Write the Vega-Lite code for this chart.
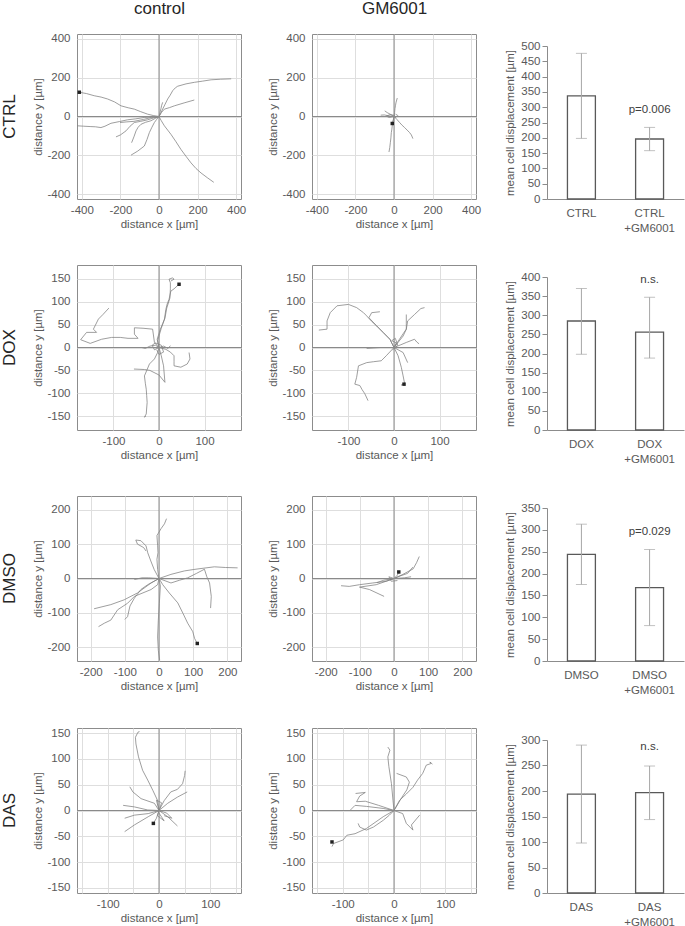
{
"$schema": "https://vega.github.io/schema/vega-lite/v6.json",
"padding": {"left": 0, "top": -2, "right": 2, "bottom": 0},
"autosize": {"type": "pad"},
"background": "white",
"config": {
  "font": "Liberation Sans",
  "view": {"stroke": null},
  "axis": {"labelFontSize": 11.5, "titleFontSize": 11.5, "labelColor": "#595959", "titleColor": "#595959", "titleFontWeight": "normal", "domain": false, "ticks": false, "gridColor": "#dedede", "gridWidth": 1, "labelFont": "Liberation Sans", "titleFont": "Liberation Sans", "labelOverlap": false, "labelFlush": false},
  "title": {"font": "Liberation Sans", "fontWeight": "normal", "fontSize": 17, "color": "#262626"}
},
"datasets": {
"tracks": [
{"p":1,"t":1,"i":0,"x":0,"y":0},{"p":1,"t":1,"i":1,"x":8,"y":15},{"p":1,"t":1,"i":2,"x":19,"y":38},{"p":1,"t":1,"i":3,"x":30,"y":60},{"p":1,"t":1,"i":4,"x":45,"y":90},{"p":1,"t":1,"i":5,"x":58,"y":110},{"p":1,"t":1,"i":6,"x":71,"y":133},{"p":1,"t":1,"i":7,"x":85,"y":148},{"p":1,"t":1,"i":8,"x":97,"y":156},{"p":1,"t":1,"i":9,"x":140,"y":168},{"p":1,"t":1,"i":10,"x":183,"y":176},{"p":1,"t":1,"i":11,"x":225,"y":182},{"p":1,"t":1,"i":12,"x":270,"y":189},{"p":1,"t":1,"i":13,"x":320,"y":192},{"p":1,"t":1,"i":14,"x":374,"y":194},
{"p":1,"t":2,"i":0,"x":0,"y":0},{"p":1,"t":2,"i":1,"x":12,"y":20},{"p":1,"t":2,"i":2,"x":28,"y":38},{"p":1,"t":2,"i":3,"x":55,"y":46},{"p":1,"t":2,"i":4,"x":80,"y":55},{"p":1,"t":2,"i":5,"x":130,"y":70},{"p":1,"t":2,"i":6,"x":183,"y":85},
{"p":1,"t":3,"i":0,"x":0,"y":0},{"p":1,"t":3,"i":1,"x":-30,"y":5},{"p":1,"t":3,"i":2,"x":-59,"y":12},{"p":1,"t":3,"i":3,"x":-95,"y":25},{"p":1,"t":3,"i":4,"x":-128,"y":38},{"p":1,"t":3,"i":5,"x":-160,"y":45},{"p":1,"t":3,"i":6,"x":-197,"y":55},{"p":1,"t":3,"i":7,"x":-230,"y":75},{"p":1,"t":3,"i":8,"x":-266,"y":90},{"p":1,"t":3,"i":9,"x":-300,"y":100},{"p":1,"t":3,"i":10,"x":-336,"y":107},{"p":1,"t":3,"i":11,"x":-375,"y":118},{"p":1,"t":3,"i":12,"x":-413,"y":125},
{"p":1,"t":4,"i":0,"x":0,"y":0},{"p":1,"t":4,"i":1,"x":-40,"y":-2},{"p":1,"t":4,"i":2,"x":-76,"y":-5},{"p":1,"t":4,"i":3,"x":-120,"y":-12},{"p":1,"t":4,"i":4,"x":-163,"y":-17},{"p":1,"t":4,"i":5,"x":-205,"y":-26},{"p":1,"t":4,"i":6,"x":-249,"y":-35},{"p":1,"t":4,"i":7,"x":-280,"y":-50},{"p":1,"t":4,"i":8,"x":-301,"y":-57},{"p":1,"t":4,"i":9,"x":-330,"y":-53},{"p":1,"t":4,"i":10,"x":-353,"y":-52},{"p":1,"t":4,"i":11,"x":-390,"y":-50},{"p":1,"t":4,"i":12,"x":-422,"y":-48},
{"p":1,"t":5,"i":0,"x":0,"y":0},{"p":1,"t":5,"i":1,"x":-30,"y":-8},{"p":1,"t":5,"i":2,"x":-59,"y":-17},{"p":1,"t":5,"i":3,"x":-95,"y":-25},{"p":1,"t":5,"i":4,"x":-128,"y":-31},{"p":1,"t":5,"i":5,"x":-150,"y":-50},{"p":1,"t":5,"i":6,"x":-171,"y":-74},{"p":1,"t":5,"i":7,"x":-200,"y":-95},{"p":1,"t":5,"i":8,"x":-223,"y":-105},
{"p":1,"t":6,"i":0,"x":0,"y":0},{"p":1,"t":6,"i":1,"x":-20,"y":-10},{"p":1,"t":6,"i":2,"x":-42,"y":-22},{"p":1,"t":6,"i":3,"x":-70,"y":-30},{"p":1,"t":6,"i":4,"x":-93,"y":-40},{"p":1,"t":6,"i":5,"x":-108,"y":-55},{"p":1,"t":6,"i":6,"x":-119,"y":-74},{"p":1,"t":6,"i":7,"x":-130,"y":-105},{"p":1,"t":6,"i":8,"x":-142,"y":-135},
{"p":1,"t":7,"i":0,"x":0,"y":0},{"p":1,"t":7,"i":1,"x":-12,"y":-15},{"p":1,"t":7,"i":2,"x":-24,"y":-31},{"p":1,"t":7,"i":3,"x":-38,"y":-58},{"p":1,"t":7,"i":4,"x":-50,"y":-83},{"p":1,"t":7,"i":5,"x":-62,"y":-118},{"p":1,"t":7,"i":6,"x":-76,"y":-152},{"p":1,"t":7,"i":7,"x":-110,"y":-178},{"p":1,"t":7,"i":8,"x":-145,"y":-199},
{"p":1,"t":8,"i":0,"x":0,"y":0},{"p":1,"t":8,"i":1,"x":12,"y":-22},{"p":1,"t":8,"i":2,"x":28,"y":-48},{"p":1,"t":8,"i":3,"x":45,"y":-70},{"p":1,"t":8,"i":4,"x":62,"y":-92},{"p":1,"t":8,"i":5,"x":88,"y":-130},{"p":1,"t":8,"i":6,"x":114,"y":-170},{"p":1,"t":8,"i":7,"x":140,"y":-205},{"p":1,"t":8,"i":8,"x":166,"y":-239},{"p":1,"t":8,"i":9,"x":192,"y":-268},{"p":1,"t":8,"i":10,"x":218,"y":-291},{"p":1,"t":8,"i":11,"x":250,"y":-315},{"p":1,"t":8,"i":12,"x":284,"y":-339},
{"p":1,"t":9,"i":0,"x":0,"y":0},{"p":1,"t":9,"i":1,"x":5,"y":20},{"p":1,"t":9,"i":2,"x":10,"y":40},{"p":1,"t":9,"i":3,"x":14,"y":58},{"p":1,"t":9,"i":4,"x":19,"y":73},
{"p":1,"t":10,"i":0,"x":0,"y":0},{"p":1,"t":10,"i":1,"x":-40,"y":-5},{"p":1,"t":10,"i":2,"x":-80,"y":-15},{"p":1,"t":10,"i":3,"x":-130,"y":-25},{"p":1,"t":10,"i":4,"x":-170,"y":-28},{"p":1,"t":10,"i":5,"x":-202,"y":-31},

{"p":2,"t":1,"i":0,"x":0,"y":0},{"p":2,"t":1,"i":1,"x":3,"y":20},{"p":2,"t":1,"i":2,"x":5,"y":40},{"p":2,"t":1,"i":3,"x":8,"y":58},{"p":2,"t":1,"i":4,"x":10,"y":70},{"p":2,"t":1,"i":5,"x":14,"y":85},{"p":2,"t":1,"i":6,"x":17,"y":95},
{"p":2,"t":2,"i":0,"x":0,"y":0},{"p":2,"t":2,"i":1,"x":-4,"y":-25},{"p":2,"t":2,"i":2,"x":-9,"y":-48},{"p":2,"t":2,"i":3,"x":-11,"y":-65},{"p":2,"t":2,"i":4,"x":-14,"y":-83},{"p":2,"t":2,"i":5,"x":-16,"y":-110},{"p":2,"t":2,"i":6,"x":-19,"y":-135},{"p":2,"t":2,"i":7,"x":-22,"y":-160},{"p":2,"t":2,"i":8,"x":-26,"y":-183},
{"p":2,"t":3,"i":0,"x":0,"y":0},{"p":2,"t":3,"i":1,"x":15,"y":-15},{"p":2,"t":3,"i":2,"x":29,"y":-31},{"p":2,"t":3,"i":3,"x":42,"y":-45},{"p":2,"t":3,"i":4,"x":55,"y":-57},{"p":2,"t":3,"i":5,"x":68,"y":-70},{"p":2,"t":3,"i":6,"x":81,"y":-83},{"p":2,"t":3,"i":7,"x":90,"y":-95},{"p":2,"t":3,"i":8,"x":98,"y":-114},
{"p":2,"t":4,"i":0,"x":0,"y":0},{"p":2,"t":4,"i":1,"x":-25,"y":3},{"p":2,"t":4,"i":2,"x":-50,"y":8},{"p":2,"t":4,"i":3,"x":-69,"y":7},
{"p":2,"t":5,"i":0,"x":0,"y":0},{"p":2,"t":5,"i":1,"x":-20,"y":12},{"p":2,"t":5,"i":2,"x":-35,"y":20},{"p":2,"t":5,"i":3,"x":-48,"y":29},
{"p":2,"t":6,"i":0,"x":0,"y":0},{"p":2,"t":6,"i":1,"x":-4,"y":-18},{"p":2,"t":6,"i":2,"x":-9,"y":-36},
{"p":2,"t":7,"i":0,"x":0,"y":0},{"p":2,"t":7,"i":1,"x":-25,"y":-5},{"p":2,"t":7,"i":2,"x":-40,"y":2},{"p":2,"t":7,"i":3,"x":-20,"y":10},{"p":2,"t":7,"i":4,"x":5,"y":5},
{"p":2,"t":8,"i":0,"x":0,"y":0},{"p":2,"t":8,"i":1,"x":10,"y":-5},{"p":2,"t":8,"i":2,"x":20,"y":5},{"p":2,"t":8,"i":3,"x":8,"y":12},

{"p":3,"t":1,"i":0,"x":0,"y":0},{"p":3,"t":1,"i":1,"x":-4,"y":18},{"p":3,"t":1,"i":2,"x":3,"y":40},{"p":3,"t":1,"i":3,"x":8,"y":52},{"p":3,"t":1,"i":4,"x":12,"y":62},{"p":3,"t":1,"i":5,"x":15,"y":83},{"p":3,"t":1,"i":6,"x":18,"y":95},{"p":3,"t":1,"i":7,"x":22,"y":105},{"p":3,"t":1,"i":8,"x":26,"y":123},{"p":3,"t":1,"i":9,"x":33,"y":128},{"p":3,"t":1,"i":10,"x":44,"y":138},
{"p":3,"t":2,"i":0,"x":0,"y":0},{"p":3,"t":2,"i":1,"x":-3,"y":15},{"p":3,"t":2,"i":2,"x":5,"y":42},{"p":3,"t":2,"i":3,"x":13,"y":64},{"p":3,"t":2,"i":4,"x":17,"y":86},{"p":3,"t":2,"i":5,"x":24,"y":108},{"p":3,"t":2,"i":6,"x":25,"y":128},{"p":3,"t":2,"i":7,"x":25,"y":141},{"p":3,"t":2,"i":8,"x":22,"y":149},{"p":3,"t":2,"i":9,"x":30,"y":152},{"p":3,"t":2,"i":10,"x":33,"y":149},{"p":3,"t":2,"i":11,"x":26,"y":145},
{"p":3,"t":3,"i":0,"x":0,"y":0},{"p":3,"t":3,"i":1,"x":-10,"y":11},{"p":3,"t":3,"i":2,"x":-14,"y":40},{"p":3,"t":3,"i":3,"x":-35,"y":42},{"p":3,"t":3,"i":4,"x":-54,"y":43},{"p":3,"t":3,"i":5,"x":-54,"y":29},{"p":3,"t":3,"i":6,"x":-46,"y":20},{"p":3,"t":3,"i":7,"x":-68,"y":20},{"p":3,"t":3,"i":8,"x":-85,"y":22},{"p":3,"t":3,"i":9,"x":-104,"y":22},{"p":3,"t":3,"i":10,"x":-126,"y":18},{"p":3,"t":3,"i":11,"x":-151,"y":9},{"p":3,"t":3,"i":12,"x":-172,"y":17},{"p":3,"t":3,"i":13,"x":-159,"y":33},{"p":3,"t":3,"i":14,"x":-137,"y":33},{"p":3,"t":3,"i":15,"x":-144,"y":40},{"p":3,"t":3,"i":16,"x":-133,"y":62},{"p":3,"t":3,"i":17,"x":-123,"y":72},{"p":3,"t":3,"i":18,"x":-110,"y":86},
{"p":3,"t":4,"i":0,"x":0,"y":0},{"p":3,"t":4,"i":1,"x":-3,"y":-11},{"p":3,"t":4,"i":2,"x":-10,"y":-25},{"p":3,"t":4,"i":3,"x":-21,"y":-36},{"p":3,"t":4,"i":4,"x":-26,"y":-48},{"p":3,"t":4,"i":5,"x":-32,"y":-62},{"p":3,"t":4,"i":6,"x":-30,"y":-78},{"p":3,"t":4,"i":7,"x":-28,"y":-91},{"p":3,"t":4,"i":8,"x":-27,"y":-105},{"p":3,"t":4,"i":9,"x":-26,"y":-120},{"p":3,"t":4,"i":10,"x":-27,"y":-132},{"p":3,"t":4,"i":11,"x":-28,"y":-145},{"p":3,"t":4,"i":12,"x":-32,"y":-152},{"p":3,"t":4,"i":13,"x":-29,"y":-150},
{"p":3,"t":5,"i":0,"x":0,"y":0},{"p":3,"t":5,"i":1,"x":15,"y":-4},{"p":3,"t":5,"i":2,"x":25,"y":-10},{"p":3,"t":5,"i":3,"x":33,"y":-18},{"p":3,"t":5,"i":4,"x":33,"y":-30},{"p":3,"t":5,"i":5,"x":33,"y":-40},{"p":3,"t":5,"i":6,"x":48,"y":-43},{"p":3,"t":5,"i":7,"x":62,"y":-36},{"p":3,"t":5,"i":8,"x":68,"y":-25},{"p":3,"t":5,"i":9,"x":66,"y":-11},
{"p":3,"t":6,"i":0,"x":0,"y":0},{"p":3,"t":6,"i":1,"x":5,"y":-18},{"p":3,"t":6,"i":2,"x":10,"y":-40},{"p":3,"t":6,"i":3,"x":13,"y":-76},{"p":3,"t":6,"i":4,"x":0,"y":-60},{"p":3,"t":6,"i":5,"x":-20,"y":-50},{"p":3,"t":6,"i":6,"x":-32,"y":-48},{"p":3,"t":6,"i":7,"x":-55,"y":-47},
{"p":3,"t":7,"i":0,"x":0,"y":0},{"p":3,"t":7,"i":1,"x":-10,"y":-5},{"p":3,"t":7,"i":2,"x":-15,"y":5},{"p":3,"t":7,"i":3,"x":-8,"y":10},{"p":3,"t":7,"i":4,"x":5,"y":5},{"p":3,"t":7,"i":5,"x":10,"y":-10},{"p":3,"t":7,"i":6,"x":0,"y":-15},{"p":3,"t":7,"i":7,"x":-5,"y":-5},
{"p":3,"t":8,"i":0,"x":0,"y":0},{"p":3,"t":8,"i":1,"x":10,"y":3},{"p":3,"t":8,"i":2,"x":20,"y":-2},{"p":3,"t":8,"i":3,"x":25,"y":4},
{"p":3,"t":9,"i":0,"x":0,"y":0},{"p":3,"t":9,"i":1,"x":-8,"y":5},{"p":3,"t":9,"i":2,"x":-20,"y":3},{"p":3,"t":9,"i":3,"x":-30,"y":-2},{"p":3,"t":9,"i":4,"x":-38,"y":0},

{"p":4,"t":1,"i":0,"x":0,"y":0},{"p":4,"t":1,"i":1,"x":-9,"y":18},{"p":4,"t":1,"i":2,"x":-24,"y":33},{"p":4,"t":1,"i":3,"x":-38,"y":47},{"p":4,"t":1,"i":4,"x":-50,"y":58},{"p":4,"t":1,"i":5,"x":-60,"y":69},{"p":4,"t":1,"i":6,"x":-67,"y":76},{"p":4,"t":1,"i":7,"x":-82,"y":87},{"p":4,"t":1,"i":8,"x":-100,"y":94},{"p":4,"t":1,"i":9,"x":-125,"y":91},{"p":4,"t":1,"i":10,"x":-140,"y":76},{"p":4,"t":1,"i":11,"x":-147,"y":58},{"p":4,"t":1,"i":12,"x":-147,"y":40},{"p":4,"t":1,"i":13,"x":-165,"y":38},
{"p":4,"t":2,"i":0,"x":0,"y":0},{"p":4,"t":2,"i":1,"x":-9,"y":18},{"p":4,"t":2,"i":2,"x":-24,"y":33},{"p":4,"t":2,"i":3,"x":-38,"y":47},{"p":4,"t":2,"i":4,"x":-55,"y":65},{"p":4,"t":2,"i":5,"x":-49,"y":76},{"p":4,"t":2,"i":6,"x":-31,"y":78},
{"p":4,"t":3,"i":0,"x":0,"y":0},{"p":4,"t":3,"i":1,"x":12,"y":18},{"p":4,"t":3,"i":2,"x":20,"y":30},{"p":4,"t":3,"i":3,"x":27,"y":40},{"p":4,"t":3,"i":4,"x":30,"y":58},{"p":4,"t":3,"i":5,"x":45,"y":72},{"p":4,"t":3,"i":6,"x":59,"y":85},{"p":4,"t":3,"i":7,"x":67,"y":87},
{"p":4,"t":4,"i":0,"x":0,"y":0},{"p":4,"t":4,"i":1,"x":20,"y":25},{"p":4,"t":4,"i":2,"x":27,"y":40},{"p":4,"t":4,"i":3,"x":27,"y":52},{"p":4,"t":4,"i":4,"x":27,"y":72},
{"p":4,"t":5,"i":0,"x":0,"y":0},{"p":4,"t":5,"i":1,"x":15,"y":6},{"p":4,"t":5,"i":2,"x":27,"y":11},{"p":4,"t":5,"i":3,"x":45,"y":18},{"p":4,"t":5,"i":4,"x":50,"y":12},{"p":4,"t":5,"i":5,"x":55,"y":8},
{"p":4,"t":6,"i":0,"x":0,"y":0},{"p":4,"t":6,"i":1,"x":-17,"y":-18},{"p":4,"t":6,"i":2,"x":-28,"y":-29},{"p":4,"t":6,"i":3,"x":-45,"y":-31},{"p":4,"t":6,"i":4,"x":-60,"y":-33},{"p":4,"t":6,"i":5,"x":-78,"y":-40},{"p":4,"t":6,"i":6,"x":-82,"y":-65},{"p":4,"t":6,"i":7,"x":-86,"y":-80},{"p":4,"t":6,"i":8,"x":-75,"y":-83},{"p":4,"t":6,"i":9,"x":-70,"y":-92},{"p":4,"t":6,"i":10,"x":-64,"y":-101},{"p":4,"t":6,"i":11,"x":-57,"y":-116},
{"p":4,"t":7,"i":0,"x":0,"y":0},{"p":4,"t":7,"i":1,"x":9,"y":-18},{"p":4,"t":7,"i":2,"x":16,"y":-43},{"p":4,"t":7,"i":3,"x":20,"y":-62},{"p":4,"t":7,"i":4,"x":23,"y":-77},{"p":4,"t":7,"i":5,"x":16,"y":-82},{"p":4,"t":7,"i":6,"x":22,"y":-80},
{"p":4,"t":8,"i":0,"x":0,"y":0},{"p":4,"t":8,"i":1,"x":-30,"y":0},{"p":4,"t":8,"i":2,"x":-60,"y":-2},
{"p":4,"t":9,"i":0,"x":0,"y":0},{"p":4,"t":9,"i":1,"x":20,"y":-11},{"p":4,"t":9,"i":2,"x":30,"y":-33},
{"p":4,"t":10,"i":0,"x":0,"y":0},{"p":4,"t":10,"i":1,"x":5,"y":10},{"p":4,"t":10,"i":2,"x":-5,"y":15},{"p":4,"t":10,"i":3,"x":3,"y":20},{"p":4,"t":10,"i":4,"x":8,"y":5},{"p":4,"t":10,"i":5,"x":-3,"y":-5},

{"p":5,"t":1,"i":0,"x":0,"y":0},{"p":5,"t":1,"i":1,"x":-4,"y":26},{"p":5,"t":1,"i":2,"x":-6,"y":56},{"p":5,"t":1,"i":3,"x":-3,"y":75},{"p":5,"t":1,"i":4,"x":-4,"y":95},{"p":5,"t":1,"i":5,"x":-6,"y":125},{"p":5,"t":1,"i":6,"x":6,"y":145},{"p":5,"t":1,"i":7,"x":16,"y":159},{"p":5,"t":1,"i":8,"x":22,"y":174},
{"p":5,"t":2,"i":0,"x":0,"y":0},{"p":5,"t":2,"i":1,"x":-14,"y":26},{"p":5,"t":2,"i":2,"x":-24,"y":51},{"p":5,"t":2,"i":3,"x":-33,"y":75},{"p":5,"t":2,"i":4,"x":-38,"y":95},{"p":5,"t":2,"i":5,"x":-53,"y":110},{"p":5,"t":2,"i":6,"x":-68,"y":112},{"p":5,"t":2,"i":7,"x":-63,"y":100},{"p":5,"t":2,"i":8,"x":-45,"y":90},{"p":5,"t":2,"i":9,"x":-38,"y":80},
{"p":5,"t":3,"i":0,"x":0,"y":0},{"p":5,"t":3,"i":1,"x":35,"y":12},{"p":5,"t":3,"i":2,"x":74,"y":22},{"p":5,"t":3,"i":3,"x":100,"y":26},{"p":5,"t":3,"i":4,"x":123,"y":29},{"p":5,"t":3,"i":5,"x":162,"y":34},{"p":5,"t":3,"i":6,"x":195,"y":32},{"p":5,"t":3,"i":7,"x":230,"y":31},
{"p":5,"t":4,"i":0,"x":0,"y":0},{"p":5,"t":4,"i":1,"x":35,"y":-13},{"p":5,"t":4,"i":2,"x":60,"y":-5},{"p":5,"t":4,"i":3,"x":84,"y":2},{"p":5,"t":4,"i":4,"x":110,"y":15},{"p":5,"t":4,"i":5,"x":133,"y":27},{"p":5,"t":4,"i":6,"x":140,"y":5},{"p":5,"t":4,"i":7,"x":148,"y":-13},{"p":5,"t":4,"i":8,"x":153,"y":-52},{"p":5,"t":4,"i":9,"x":151,"y":-86},
{"p":5,"t":5,"i":0,"x":0,"y":0},{"p":5,"t":5,"i":1,"x":11,"y":-18},{"p":5,"t":5,"i":2,"x":30,"y":-42},{"p":5,"t":5,"i":3,"x":55,"y":-71},{"p":5,"t":5,"i":4,"x":70,"y":-101},{"p":5,"t":5,"i":5,"x":84,"y":-130},{"p":5,"t":5,"i":6,"x":99,"y":-155},{"p":5,"t":5,"i":7,"x":104,"y":-174},{"p":5,"t":5,"i":8,"x":112,"y":-189},
{"p":5,"t":6,"i":0,"x":0,"y":0},{"p":5,"t":6,"i":1,"x":4,"y":-22},{"p":5,"t":6,"i":2,"x":1,"y":-72},{"p":5,"t":6,"i":3,"x":-2,"y":-121},{"p":5,"t":6,"i":4,"x":-4,"y":-170},{"p":5,"t":6,"i":5,"x":-2,"y":-209},{"p":5,"t":6,"i":6,"x":2,"y":-238},
{"p":5,"t":7,"i":0,"x":0,"y":0},{"p":5,"t":7,"i":1,"x":-33,"y":-18},{"p":5,"t":7,"i":2,"x":-53,"y":-32},{"p":5,"t":7,"i":3,"x":-72,"y":-57},{"p":5,"t":7,"i":4,"x":-85,"y":-80},{"p":5,"t":7,"i":5,"x":-92,"y":-111},{"p":5,"t":7,"i":6,"x":-100,"y":-119},
{"p":5,"t":8,"i":0,"x":0,"y":0},{"p":5,"t":8,"i":1,"x":-23,"y":-13},{"p":5,"t":8,"i":2,"x":-63,"y":-42},{"p":5,"t":8,"i":3,"x":-102,"y":-62},{"p":5,"t":8,"i":4,"x":-141,"y":-76},{"p":5,"t":8,"i":5,"x":-190,"y":-88},
{"p":5,"t":9,"i":0,"x":0,"y":0},{"p":5,"t":9,"i":1,"x":-4,"y":-18},{"p":5,"t":9,"i":2,"x":-23,"y":-32},{"p":5,"t":9,"i":3,"x":-72,"y":-52},{"p":5,"t":9,"i":4,"x":-92,"y":-72},{"p":5,"t":9,"i":5,"x":-121,"y":-91},{"p":5,"t":9,"i":6,"x":-141,"y":-121},{"p":5,"t":9,"i":7,"x":-160,"y":-130},{"p":5,"t":9,"i":8,"x":-177,"y":-140},
{"p":5,"t":10,"i":0,"x":0,"y":0},{"p":5,"t":10,"i":1,"x":-30,"y":2},{"p":5,"t":10,"i":2,"x":-50,"y":2},{"p":5,"t":10,"i":3,"x":-72,"y":-3},

{"p":6,"t":1,"i":0,"x":0,"y":0},{"p":6,"t":1,"i":1,"x":-23,"y":-8},{"p":6,"t":1,"i":2,"x":-62,"y":-13},{"p":6,"t":1,"i":3,"x":-101,"y":-18},{"p":6,"t":1,"i":4,"x":-131,"y":-23},{"p":6,"t":1,"i":5,"x":-155,"y":-21},
{"p":6,"t":2,"i":0,"x":0,"y":0},{"p":6,"t":2,"i":1,"x":-52,"y":-18},{"p":6,"t":2,"i":2,"x":-101,"y":-25},{"p":6,"t":2,"i":3,"x":-72,"y":-32},{"p":6,"t":2,"i":4,"x":-29,"y":-52},
{"p":6,"t":3,"i":0,"x":0,"y":0},{"p":6,"t":3,"i":1,"x":26,"y":12},{"p":6,"t":3,"i":2,"x":56,"y":28},{"p":6,"t":3,"i":3,"x":66,"y":46},{"p":6,"t":3,"i":4,"x":74,"y":64},
{"p":6,"t":4,"i":0,"x":0,"y":0},{"p":6,"t":4,"i":1,"x":20,"y":8},{"p":6,"t":4,"i":2,"x":40,"y":15},{"p":6,"t":4,"i":3,"x":55,"y":33},
{"p":6,"t":5,"i":0,"x":0,"y":0},{"p":6,"t":5,"i":1,"x":10,"y":10},{"p":6,"t":5,"i":2,"x":14,"y":19},
{"p":6,"t":6,"i":0,"x":0,"y":0},{"p":6,"t":6,"i":1,"x":-30,"y":-5},{"p":6,"t":6,"i":2,"x":-50,"y":-12},
{"p":6,"t":7,"i":0,"x":0,"y":0},{"p":6,"t":7,"i":1,"x":30,"y":2},{"p":6,"t":7,"i":2,"x":50,"y":5},
{"p":6,"t":8,"i":0,"x":0,"y":0},{"p":6,"t":8,"i":1,"x":-15,"y":5},{"p":6,"t":8,"i":2,"x":-8,"y":-8},{"p":6,"t":8,"i":3,"x":10,"y":-6},

{"p":7,"t":1,"i":0,"x":0,"y":0},{"p":7,"t":1,"i":1,"x":-3,"y":20},{"p":7,"t":1,"i":2,"x":-12,"y":39},{"p":7,"t":1,"i":3,"x":-22,"y":59},{"p":7,"t":1,"i":4,"x":-32,"y":78},{"p":7,"t":1,"i":5,"x":-40,"y":104},{"p":7,"t":1,"i":6,"x":-45,"y":129},{"p":7,"t":1,"i":7,"x":-46,"y":142},{"p":7,"t":1,"i":8,"x":-41,"y":152},{"p":7,"t":1,"i":9,"x":-38,"y":153},
{"p":7,"t":2,"i":0,"x":0,"y":0},{"p":7,"t":2,"i":1,"x":10,"y":19},{"p":7,"t":2,"i":2,"x":23,"y":36},{"p":7,"t":2,"i":3,"x":36,"y":41},{"p":7,"t":2,"i":4,"x":46,"y":52},{"p":7,"t":2,"i":5,"x":50,"y":68},{"p":7,"t":2,"i":6,"x":51,"y":77},
{"p":7,"t":3,"i":0,"x":0,"y":0},{"p":7,"t":3,"i":1,"x":17,"y":14},{"p":7,"t":3,"i":2,"x":36,"y":26},{"p":7,"t":3,"i":3,"x":55,"y":36},
{"p":7,"t":4,"i":0,"x":0,"y":0},{"p":7,"t":4,"i":1,"x":-21,"y":-12},{"p":7,"t":4,"i":2,"x":-48,"y":-28},{"p":7,"t":4,"i":3,"x":-67,"y":-41},
{"p":7,"t":5,"i":0,"x":0,"y":0},{"p":7,"t":5,"i":1,"x":-21,"y":-6},{"p":7,"t":5,"i":2,"x":-48,"y":-9},{"p":7,"t":5,"i":3,"x":-67,"y":-15},
{"p":7,"t":6,"i":0,"x":0,"y":0},{"p":7,"t":6,"i":1,"x":-9,"y":14},{"p":7,"t":6,"i":2,"x":-35,"y":23},{"p":7,"t":6,"i":3,"x":-51,"y":36},{"p":7,"t":6,"i":4,"x":-57,"y":46},
{"p":7,"t":7,"i":0,"x":0,"y":0},{"p":7,"t":7,"i":1,"x":-22,"y":1},{"p":7,"t":7,"i":2,"x":-48,"y":7},{"p":7,"t":7,"i":3,"x":-70,"y":10},
{"p":7,"t":8,"i":0,"x":0,"y":0},{"p":7,"t":8,"i":1,"x":17,"y":-12},{"p":7,"t":8,"i":2,"x":36,"y":-30},
{"p":7,"t":9,"i":0,"x":0,"y":0},{"p":7,"t":9,"i":1,"x":-5,"y":-15},{"p":7,"t":9,"i":2,"x":-11,"y":-25},
{"p":7,"t":10,"i":0,"x":0,"y":0},{"p":7,"t":10,"i":1,"x":-5,"y":20},{"p":7,"t":10,"i":2,"x":5,"y":15},{"p":7,"t":10,"i":3,"x":-3,"y":-10},{"p":7,"t":10,"i":4,"x":10,"y":-20},{"p":7,"t":10,"i":5,"x":0,"y":-5},
{"p":7,"t":11,"i":0,"x":0,"y":0},{"p":7,"t":11,"i":1,"x":15,"y":-5},{"p":7,"t":11,"i":2,"x":25,"y":-15},{"p":7,"t":11,"i":3,"x":10,"y":-10},

{"p":8,"t":1,"i":0,"x":0,"y":0},{"p":8,"t":1,"i":1,"x":-2,"y":20},{"p":8,"t":1,"i":2,"x":-5,"y":52},{"p":8,"t":1,"i":3,"x":-10,"y":85},{"p":8,"t":1,"i":4,"x":-12,"y":104},{"p":8,"t":1,"i":5,"x":-8,"y":117},{"p":8,"t":1,"i":6,"x":-12,"y":123},
{"p":8,"t":2,"i":0,"x":0,"y":0},{"p":8,"t":2,"i":1,"x":11,"y":20},{"p":8,"t":2,"i":2,"x":24,"y":32},{"p":8,"t":2,"i":3,"x":37,"y":45},{"p":8,"t":2,"i":4,"x":46,"y":59},{"p":8,"t":2,"i":5,"x":56,"y":72},{"p":8,"t":2,"i":6,"x":63,"y":88},{"p":8,"t":2,"i":7,"x":72,"y":91},{"p":8,"t":2,"i":8,"x":70,"y":94},{"p":8,"t":2,"i":9,"x":75,"y":90},
{"p":8,"t":3,"i":0,"x":0,"y":0},{"p":8,"t":3,"i":1,"x":15,"y":25},{"p":8,"t":3,"i":2,"x":25,"y":40},{"p":8,"t":3,"i":3,"x":30,"y":55},{"p":8,"t":3,"i":4,"x":24,"y":65},{"p":8,"t":3,"i":5,"x":5,"y":72},
{"p":8,"t":4,"i":0,"x":0,"y":0},{"p":8,"t":4,"i":1,"x":-21,"y":4},{"p":8,"t":4,"i":2,"x":-54,"y":8},{"p":8,"t":4,"i":3,"x":-76,"y":10},{"p":8,"t":4,"i":4,"x":-86,"y":0},
{"p":8,"t":5,"i":0,"x":0,"y":0},{"p":8,"t":5,"i":1,"x":-30,"y":10},{"p":8,"t":5,"i":2,"x":-56,"y":18},{"p":8,"t":5,"i":3,"x":-73,"y":17},{"p":8,"t":5,"i":4,"x":-67,"y":28},{"p":8,"t":5,"i":5,"x":-56,"y":35},{"p":8,"t":5,"i":6,"x":-75,"y":33},
{"p":8,"t":6,"i":0,"x":0,"y":0},{"p":8,"t":6,"i":1,"x":-21,"y":-12},{"p":8,"t":6,"i":2,"x":-54,"y":-35},{"p":8,"t":6,"i":3,"x":-76,"y":-45},{"p":8,"t":6,"i":4,"x":-92,"y":-48},{"p":8,"t":6,"i":5,"x":-99,"y":-57},{"p":8,"t":6,"i":6,"x":-118,"y":-64},{"p":8,"t":6,"i":7,"x":-121,"y":-70},
{"p":8,"t":7,"i":0,"x":0,"y":0},{"p":8,"t":7,"i":1,"x":-9,"y":-9},{"p":8,"t":7,"i":2,"x":-21,"y":-19},{"p":8,"t":7,"i":3,"x":-40,"y":-32},{"p":8,"t":7,"i":4,"x":-54,"y":-38},{"p":8,"t":7,"i":5,"x":-67,"y":-32},{"p":8,"t":7,"i":6,"x":-70,"y":-25},
{"p":8,"t":8,"i":0,"x":0,"y":0},{"p":8,"t":8,"i":1,"x":17,"y":-6},{"p":8,"t":8,"i":2,"x":24,"y":-25},{"p":8,"t":8,"i":3,"x":37,"y":-38},{"p":8,"t":8,"i":4,"x":34,"y":-28},{"p":8,"t":8,"i":5,"x":50,"y":-9}
],
"marks": [
{"p":1,"x":-413,"y":125},{"p":2,"x":-9,"y":-36},{"p":3,"x":44,"y":138},{"p":4,"x":22,"y":-80},{"p":5,"x":112,"y":-189},{"p":6,"x":14,"y":19},{"p":7,"x":-11,"y":-25},{"p":8,"x":-121,"y":-61}
],
"bars": [
{"r":1,"c":"CTRL","m":337,"lo":198,"hi":476,"txt":""},
{"r":1,"c":"CTRL|+GM6001","m":196,"lo":158,"hi":234,"ty":291,"txt":"p=0.006"},
{"r":2,"c":"DOX","m":285,"lo":198,"hi":370,"txt":""},
{"r":2,"c":"DOX|+GM6001","m":256,"lo":188,"hi":347,"ty":391,"txt":"n.s."},
{"r":3,"c":"DMSO","m":244,"lo":175,"hi":313,"txt":""},
{"r":3,"c":"DMSO|+GM6001","m":168,"lo":81,"hi":255,"ty":296,"txt":"p=0.029"},
{"r":4,"c":"DAS","m":194,"lo":98,"hi":290,"txt":""},
{"r":4,"c":"DAS|+GM6001","m":197,"lo":144,"hi":249,"ty":287,"txt":"n.s."}
]
},
"vconcat": [
{"hconcat": [
 {"width":164,"height":165,"view":{"stroke":"#8c8c8c","strokeWidth":1},
  "title":{"text":"CTRL","orient":"left","anchor":"middle","frame":"group","offset":14},
  "resolve":{"axis":{"x":"independent"}},
  "layer":[
   {"data":{"name":"tracks"},"transform":[{"filter":"datum.p==1"}],"mark":{"type":"line","color":"#7d7d7d","strokeWidth":0.75},
    "encoding":{"x":{"field":"x","type":"quantitative","scale":{"domain":[-425,425],"nice":false,"zero":false},"axis":{"title":"distance x [µm]","values":[-400,-200,0,200,400],"tickCount":100,"labelExpr":"'' + datum.value","grid":true,"labelPadding":5,"titlePadding":3}},
     "y":{"field":"y","type":"quantitative","scale":{"domain":[-425,425],"nice":false,"zero":false},"axis":{"title":"distance y [µm]","values":[-400,-200,0,200,400],"tickCount":100,"labelExpr":"'' + datum.value","grid":true,"labelPadding":7,"titlePadding":3}},
     "detail":{"field":"t"},"order":{"field":"i","type":"quantitative"}}},
   {"data":{"values":[{}]},"mark":{"type":"rule","color":"#8a8a8a","strokeWidth":1},"encoding":{"x":{"datum":0,"type":"quantitative","axis":{"orient":"top","title":"control","labels":false,"grid":false,"titleFontSize":17,"titleColor":"#262626","titlePadding":17}}}},
   {"data":{"values":[{}]},"mark":{"type":"rule","color":"#8a8a8a","strokeWidth":1},"encoding":{"y":{"datum":0,"type":"quantitative"}}},
   {"data":{"name":"marks"},"transform":[{"filter":"datum.p==1"}],"mark":{"type":"square","filled":true,"color":"#222","size":12,"opacity":1},"encoding":{"x":{"field":"x","type":"quantitative","axis":null},"y":{"field":"y","type":"quantitative"}}}
  ]},
 {"width":164,"height":165,"view":{"stroke":"#8c8c8c","strokeWidth":1},
  "resolve":{"axis":{"x":"independent"}},
  "layer":[
   {"data":{"name":"tracks"},"transform":[{"filter":"datum.p==2"}],"mark":{"type":"line","color":"#7d7d7d","strokeWidth":0.75},
    "encoding":{"x":{"field":"x","type":"quantitative","scale":{"domain":[-425,425],"nice":false,"zero":false},"axis":{"title":"distance x [µm]","values":[-400,-200,0,200,400],"tickCount":100,"labelExpr":"'' + datum.value","grid":true,"labelPadding":5,"titlePadding":3}},
     "y":{"field":"y","type":"quantitative","scale":{"domain":[-425,425],"nice":false,"zero":false},"axis":{"title":"distance y [µm]","values":[-400,-200,0,200,400],"tickCount":100,"labelExpr":"'' + datum.value","grid":true,"labelPadding":7,"titlePadding":3}},
     "detail":{"field":"t"},"order":{"field":"i","type":"quantitative"}}},
   {"data":{"values":[{}]},"mark":{"type":"rule","color":"#8a8a8a","strokeWidth":1},"encoding":{"x":{"datum":0,"type":"quantitative","axis":{"orient":"top","title":"GM6001","labels":false,"grid":false,"titleFontSize":17,"titleColor":"#262626","titlePadding":17}}}},
   {"data":{"values":[{}]},"mark":{"type":"rule","color":"#8a8a8a","strokeWidth":1},"encoding":{"y":{"datum":0,"type":"quantitative"}}},
   {"data":{"name":"marks"},"transform":[{"filter":"datum.p==2"}],"mark":{"type":"square","filled":true,"color":"#222","size":12,"opacity":1},"encoding":{"x":{"field":"x","type":"quantitative","axis":null},"y":{"field":"y","type":"quantitative"}}}
  ]},
 {"width":137,"height":165,"data":{"name":"bars"},"transform":[{"filter":"datum.r==1"}],
  "encoding":{"x":{"field":"c","type":"nominal","sort":null,"scale":{"paddingInner":0.59,"paddingOuter":0.3},"axis":{"title":null,"labelAngle":0,"domain":true,"domainColor":"#8c8c8c","labelPadding":8,"labelExpr":"split(datum.label, '|')","labelLineHeight":15}}},
  "layer":[
   {"mark":{"type":"bar","fill":"white","stroke":"#595959","strokeWidth":1.3},"encoding":{"y":{"field":"m","type":"quantitative","scale":{"domain":[0,500],"range":[165,12],"nice":false},"axis":{"title":"mean cell displacement [µm]","values":[0,50,100,150,200,250,300,350,400,450,500],"tickCount":100,"grid":false,"domain":true,"domainColor":"#8c8c8c","ticks":true,"tickColor":"#8c8c8c","tickSize":5,"labelPadding":2,"titlePadding":5}}}},
   {"mark":{"type":"rule","color":"#a6a6a6","strokeWidth":1},"encoding":{"y":{"field":"lo","type":"quantitative"},"y2":{"field":"hi"}}},
   {"mark":{"type":"tick","color":"#a6a6a6","size":11,"thickness":1},"encoding":{"y":{"field":"lo","type":"quantitative"}}},
   {"mark":{"type":"tick","color":"#a6a6a6","size":11,"thickness":1},"encoding":{"y":{"field":"hi","type":"quantitative"}}},
   {"transform":[{"filter":"datum.txt != ''"}],"mark":{"type":"text","fontSize":11.5,"color":"#404040","baseline":"middle"},"encoding":{"y":{"field":"ty","type":"quantitative"},"text":{"field":"txt"}}}
  ]}
 ], "spacing":71, "bounds":"flush"},

{"hconcat": [
 {"width":164,"height":165,"view":{"stroke":"#8c8c8c","strokeWidth":1},
  "title":{"text":"DOX","orient":"left","anchor":"middle","frame":"group","offset":14},
  "layer":[
   {"data":{"name":"tracks"},"transform":[{"filter":"datum.p==3"}],"mark":{"type":"line","color":"#7d7d7d","strokeWidth":0.75},
    "encoding":{"x":{"field":"x","type":"quantitative","scale":{"domain":[-180,180],"nice":false,"zero":false},"axis":{"title":"distance x [µm]","values":[-100,0,100],"tickCount":100,"labelExpr":"'' + datum.value","grid":true,"labelPadding":5,"titlePadding":3}},
     "y":{"field":"y","type":"quantitative","scale":{"domain":[-180,180],"nice":false,"zero":false},"axis":{"title":"distance y [µm]","values":[-150,-100,-50,0,50,100,150],"tickCount":100,"labelExpr":"'' + datum.value","grid":true,"labelPadding":7,"titlePadding":3}},
     "detail":{"field":"t"},"order":{"field":"i","type":"quantitative"}}},
   {"data":{"values":[{}]},"mark":{"type":"rule","color":"#8a8a8a","strokeWidth":1},"encoding":{"x":{"datum":0,"type":"quantitative"}}},
   {"data":{"values":[{}]},"mark":{"type":"rule","color":"#8a8a8a","strokeWidth":1},"encoding":{"y":{"datum":0,"type":"quantitative"}}},
   {"data":{"name":"marks"},"transform":[{"filter":"datum.p==3"}],"mark":{"type":"square","filled":true,"color":"#222","size":12,"opacity":1},"encoding":{"x":{"field":"x","type":"quantitative"},"y":{"field":"y","type":"quantitative"}}}
  ]},
 {"width":164,"height":165,"view":{"stroke":"#8c8c8c","strokeWidth":1},
  "layer":[
   {"data":{"name":"tracks"},"transform":[{"filter":"datum.p==4"}],"mark":{"type":"line","color":"#7d7d7d","strokeWidth":0.75},
    "encoding":{"x":{"field":"x","type":"quantitative","scale":{"domain":[-180,180],"nice":false,"zero":false},"axis":{"title":"distance x [µm]","values":[-100,0,100],"tickCount":100,"labelExpr":"'' + datum.value","grid":true,"labelPadding":5,"titlePadding":3}},
     "y":{"field":"y","type":"quantitative","scale":{"domain":[-180,180],"nice":false,"zero":false},"axis":{"title":"distance y [µm]","values":[-150,-100,-50,0,50,100,150],"tickCount":100,"labelExpr":"'' + datum.value","grid":true,"labelPadding":7,"titlePadding":3}},
     "detail":{"field":"t"},"order":{"field":"i","type":"quantitative"}}},
   {"data":{"values":[{}]},"mark":{"type":"rule","color":"#8a8a8a","strokeWidth":1},"encoding":{"x":{"datum":0,"type":"quantitative"}}},
   {"data":{"values":[{}]},"mark":{"type":"rule","color":"#8a8a8a","strokeWidth":1},"encoding":{"y":{"datum":0,"type":"quantitative"}}},
   {"data":{"name":"marks"},"transform":[{"filter":"datum.p==4"}],"mark":{"type":"square","filled":true,"color":"#222","size":12,"opacity":1},"encoding":{"x":{"field":"x","type":"quantitative"},"y":{"field":"y","type":"quantitative"}}}
  ]},
 {"width":137,"height":165,"data":{"name":"bars"},"transform":[{"filter":"datum.r==2"}],
  "encoding":{"x":{"field":"c","type":"nominal","sort":null,"scale":{"paddingInner":0.59,"paddingOuter":0.3},"axis":{"title":null,"labelAngle":0,"domain":true,"domainColor":"#8c8c8c","labelPadding":8,"labelExpr":"split(datum.label, '|')","labelLineHeight":15}}},
  "layer":[
   {"mark":{"type":"bar","fill":"white","stroke":"#595959","strokeWidth":1.3},"encoding":{"y":{"field":"m","type":"quantitative","scale":{"domain":[0,400],"range":[165,12],"nice":false},"axis":{"title":"mean cell displacement [µm]","values":[0,50,100,150,200,250,300,350,400],"tickCount":100,"grid":false,"domain":true,"domainColor":"#8c8c8c","ticks":true,"tickColor":"#8c8c8c","tickSize":5,"labelPadding":2,"titlePadding":5}}}},
   {"mark":{"type":"rule","color":"#a6a6a6","strokeWidth":1},"encoding":{"y":{"field":"lo","type":"quantitative"},"y2":{"field":"hi"}}},
   {"mark":{"type":"tick","color":"#a6a6a6","size":11,"thickness":1},"encoding":{"y":{"field":"lo","type":"quantitative"}}},
   {"mark":{"type":"tick","color":"#a6a6a6","size":11,"thickness":1},"encoding":{"y":{"field":"hi","type":"quantitative"}}},
   {"transform":[{"filter":"datum.txt != ''"}],"mark":{"type":"text","fontSize":11.5,"color":"#404040","baseline":"middle"},"encoding":{"y":{"field":"ty","type":"quantitative"},"text":{"field":"txt"}}}
  ]}
 ], "spacing":71, "bounds":"flush"},

{"hconcat": [
 {"width":164,"height":165,"view":{"stroke":"#8c8c8c","strokeWidth":1},
  "title":{"text":"DMSO","orient":"left","anchor":"middle","frame":"group","offset":14},
  "layer":[
   {"data":{"name":"tracks"},"transform":[{"filter":"datum.p==5"}],"mark":{"type":"line","color":"#7d7d7d","strokeWidth":0.75},
    "encoding":{"x":{"field":"x","type":"quantitative","scale":{"domain":[-240,240],"nice":false,"zero":false},"axis":{"title":"distance x [µm]","values":[-200,-100,0,100,200],"tickCount":100,"labelExpr":"'' + datum.value","grid":true,"labelPadding":5,"titlePadding":3}},
     "y":{"field":"y","type":"quantitative","scale":{"domain":[-240,240],"nice":false,"zero":false},"axis":{"title":"distance y [µm]","values":[-200,-100,0,100,200],"tickCount":100,"labelExpr":"'' + datum.value","grid":true,"labelPadding":7,"titlePadding":3}},
     "detail":{"field":"t"},"order":{"field":"i","type":"quantitative"}}},
   {"data":{"values":[{}]},"mark":{"type":"rule","color":"#8a8a8a","strokeWidth":1},"encoding":{"x":{"datum":0,"type":"quantitative"}}},
   {"data":{"values":[{}]},"mark":{"type":"rule","color":"#8a8a8a","strokeWidth":1},"encoding":{"y":{"datum":0,"type":"quantitative"}}},
   {"data":{"name":"marks"},"transform":[{"filter":"datum.p==5"}],"mark":{"type":"square","filled":true,"color":"#222","size":12,"opacity":1},"encoding":{"x":{"field":"x","type":"quantitative"},"y":{"field":"y","type":"quantitative"}}}
  ]},
 {"width":164,"height":165,"view":{"stroke":"#8c8c8c","strokeWidth":1},
  "layer":[
   {"data":{"name":"tracks"},"transform":[{"filter":"datum.p==6"}],"mark":{"type":"line","color":"#7d7d7d","strokeWidth":0.75},
    "encoding":{"x":{"field":"x","type":"quantitative","scale":{"domain":[-240,240],"nice":false,"zero":false},"axis":{"title":"distance x [µm]","values":[-200,-100,0,100,200],"tickCount":100,"labelExpr":"'' + datum.value","grid":true,"labelPadding":5,"titlePadding":3}},
     "y":{"field":"y","type":"quantitative","scale":{"domain":[-240,240],"nice":false,"zero":false},"axis":{"title":"distance y [µm]","values":[-200,-100,0,100,200],"tickCount":100,"labelExpr":"'' + datum.value","grid":true,"labelPadding":7,"titlePadding":3}},
     "detail":{"field":"t"},"order":{"field":"i","type":"quantitative"}}},
   {"data":{"values":[{}]},"mark":{"type":"rule","color":"#8a8a8a","strokeWidth":1},"encoding":{"x":{"datum":0,"type":"quantitative"}}},
   {"data":{"values":[{}]},"mark":{"type":"rule","color":"#8a8a8a","strokeWidth":1},"encoding":{"y":{"datum":0,"type":"quantitative"}}},
   {"data":{"name":"marks"},"transform":[{"filter":"datum.p==6"}],"mark":{"type":"square","filled":true,"color":"#222","size":12,"opacity":1},"encoding":{"x":{"field":"x","type":"quantitative"},"y":{"field":"y","type":"quantitative"}}}
  ]},
 {"width":137,"height":165,"data":{"name":"bars"},"transform":[{"filter":"datum.r==3"}],
  "encoding":{"x":{"field":"c","type":"nominal","sort":null,"scale":{"paddingInner":0.59,"paddingOuter":0.3},"axis":{"title":null,"labelAngle":0,"domain":true,"domainColor":"#8c8c8c","labelPadding":8,"labelExpr":"split(datum.label, '|')","labelLineHeight":15}}},
  "layer":[
   {"mark":{"type":"bar","fill":"white","stroke":"#595959","strokeWidth":1.3},"encoding":{"y":{"field":"m","type":"quantitative","scale":{"domain":[0,350],"range":[165,12],"nice":false},"axis":{"title":"mean cell displacement [µm]","values":[0,50,100,150,200,250,300,350],"tickCount":100,"grid":false,"domain":true,"domainColor":"#8c8c8c","ticks":true,"tickColor":"#8c8c8c","tickSize":5,"labelPadding":2,"titlePadding":5}}}},
   {"mark":{"type":"rule","color":"#a6a6a6","strokeWidth":1},"encoding":{"y":{"field":"lo","type":"quantitative"},"y2":{"field":"hi"}}},
   {"mark":{"type":"tick","color":"#a6a6a6","size":11,"thickness":1},"encoding":{"y":{"field":"lo","type":"quantitative"}}},
   {"mark":{"type":"tick","color":"#a6a6a6","size":11,"thickness":1},"encoding":{"y":{"field":"hi","type":"quantitative"}}},
   {"transform":[{"filter":"datum.txt != ''"}],"mark":{"type":"text","fontSize":11.5,"color":"#404040","baseline":"middle"},"encoding":{"y":{"field":"ty","type":"quantitative"},"text":{"field":"txt"}}}
  ]}
 ], "spacing":71, "bounds":"flush"},

{"hconcat": [
 {"width":164,"height":165,"view":{"stroke":"#8c8c8c","strokeWidth":1},
  "title":{"text":"DAS","orient":"left","anchor":"middle","frame":"group","offset":14},
  "layer":[
   {"data":{"name":"tracks"},"transform":[{"filter":"datum.p==7"}],"mark":{"type":"line","color":"#7d7d7d","strokeWidth":0.75},
    "encoding":{"x":{"field":"x","type":"quantitative","scale":{"domain":[-160,160],"nice":false,"zero":false},"axis":{"title":"distance x [µm]","values":[-150,-100,-50,0,50,100,150],"tickCount":100,"labelExpr":"datum.value % 100 == 0 ? '' + datum.value : ''","grid":true,"labelPadding":5,"titlePadding":3}},
     "y":{"field":"y","type":"quantitative","scale":{"domain":[-160,160],"nice":false,"zero":false},"axis":{"title":"distance y [µm]","values":[-150,-100,-50,0,50,100,150],"tickCount":100,"labelExpr":"'' + datum.value","grid":true,"labelPadding":7,"titlePadding":3}},
     "detail":{"field":"t"},"order":{"field":"i","type":"quantitative"}}},
   {"data":{"values":[{}]},"mark":{"type":"rule","color":"#8a8a8a","strokeWidth":1},"encoding":{"x":{"datum":0,"type":"quantitative"}}},
   {"data":{"values":[{}]},"mark":{"type":"rule","color":"#8a8a8a","strokeWidth":1},"encoding":{"y":{"datum":0,"type":"quantitative"}}},
   {"data":{"name":"marks"},"transform":[{"filter":"datum.p==7"}],"mark":{"type":"square","filled":true,"color":"#222","size":12,"opacity":1},"encoding":{"x":{"field":"x","type":"quantitative"},"y":{"field":"y","type":"quantitative"}}}
  ]},
 {"width":164,"height":165,"view":{"stroke":"#8c8c8c","strokeWidth":1},
  "layer":[
   {"data":{"name":"tracks"},"transform":[{"filter":"datum.p==8"}],"mark":{"type":"line","color":"#7d7d7d","strokeWidth":0.75},
    "encoding":{"x":{"field":"x","type":"quantitative","scale":{"domain":[-160,160],"nice":false,"zero":false},"axis":{"title":"distance x [µm]","values":[-150,-100,-50,0,50,100,150],"tickCount":100,"labelExpr":"datum.value % 100 == 0 ? '' + datum.value : ''","grid":true,"labelPadding":5,"titlePadding":3}},
     "y":{"field":"y","type":"quantitative","scale":{"domain":[-160,160],"nice":false,"zero":false},"axis":{"title":"distance y [µm]","values":[-150,-100,-50,0,50,100,150],"tickCount":100,"labelExpr":"'' + datum.value","grid":true,"labelPadding":7,"titlePadding":3}},
     "detail":{"field":"t"},"order":{"field":"i","type":"quantitative"}}},
   {"data":{"values":[{}]},"mark":{"type":"rule","color":"#8a8a8a","strokeWidth":1},"encoding":{"x":{"datum":0,"type":"quantitative"}}},
   {"data":{"values":[{}]},"mark":{"type":"rule","color":"#8a8a8a","strokeWidth":1},"encoding":{"y":{"datum":0,"type":"quantitative"}}},
   {"data":{"name":"marks"},"transform":[{"filter":"datum.p==8"}],"mark":{"type":"square","filled":true,"color":"#222","size":12,"opacity":1},"encoding":{"x":{"field":"x","type":"quantitative"},"y":{"field":"y","type":"quantitative"}}}
  ]},
 {"width":137,"height":165,"data":{"name":"bars"},"transform":[{"filter":"datum.r==4"}],
  "encoding":{"x":{"field":"c","type":"nominal","sort":null,"scale":{"paddingInner":0.59,"paddingOuter":0.3},"axis":{"title":null,"labelAngle":0,"domain":true,"domainColor":"#8c8c8c","labelPadding":8,"labelExpr":"split(datum.label, '|')","labelLineHeight":15}}},
  "layer":[
   {"mark":{"type":"bar","fill":"white","stroke":"#595959","strokeWidth":1.3},"encoding":{"y":{"field":"m","type":"quantitative","scale":{"domain":[0,300],"range":[165,12],"nice":false},"axis":{"title":"mean cell displacement [µm]","values":[0,50,100,150,200,250,300],"tickCount":100,"grid":false,"domain":true,"domainColor":"#8c8c8c","ticks":true,"tickColor":"#8c8c8c","tickSize":5,"labelPadding":2,"titlePadding":5}}}},
   {"mark":{"type":"rule","color":"#a6a6a6","strokeWidth":1},"encoding":{"y":{"field":"lo","type":"quantitative"},"y2":{"field":"hi"}}},
   {"mark":{"type":"tick","color":"#a6a6a6","size":11,"thickness":1},"encoding":{"y":{"field":"lo","type":"quantitative"}}},
   {"mark":{"type":"tick","color":"#a6a6a6","size":11,"thickness":1},"encoding":{"y":{"field":"hi","type":"quantitative"}}},
   {"transform":[{"filter":"datum.txt != ''"}],"mark":{"type":"text","fontSize":11.5,"color":"#404040","baseline":"middle"},"encoding":{"y":{"field":"ty","type":"quantitative"},"text":{"field":"txt"}}}
  ]}
 ], "spacing":71, "bounds":"flush"}
],
"spacing": 30
}
